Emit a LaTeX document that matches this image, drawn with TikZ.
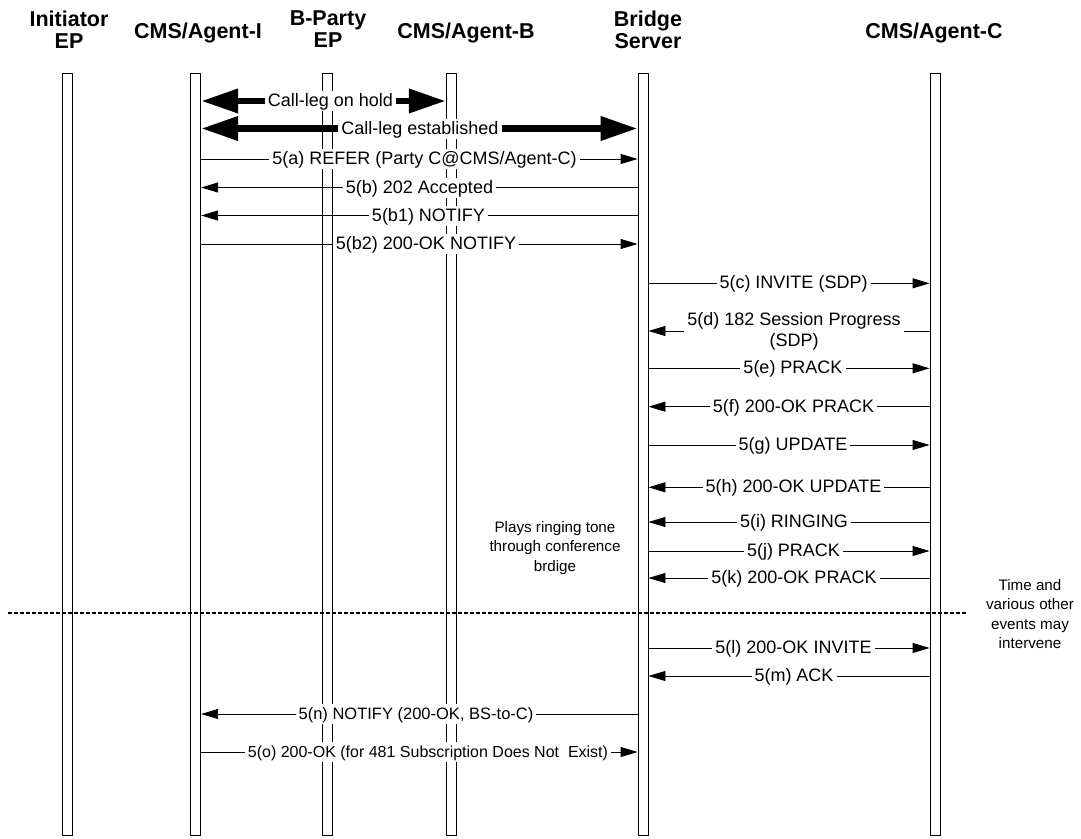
\documentclass[tikz,border=0pt]{standalone}
\usepackage{fontspec}
\setmainfont{Liberation Sans}
\usetikzlibrary{arrows.meta}
\tikzset{
  lifebar/.style={draw=black, fill=white, line width=0.9pt, minimum width=10pt, minimum height=762pt, inner sep=0pt, anchor=north},
  hdr/.style={font=\fontsize{21.5}{22}\selectfont\bfseries, align=center, inner sep=0pt},
  msg/.style={line width=0.9pt, -{Triangle[length=17pt,width=10pt]}},
  fat/.style={line width=6.8pt, {Triangle[length=37pt,width=23pt]}-{Triangle[length=37pt,width=23pt]}},
  lbl/.style={fill=white, font=\fontsize{18}{21}\selectfont, inner xsep=3pt, inner ysep=1pt, text height=14.5pt, text depth=3.5pt},
  lblsmall/.style={lbl, font=\fontsize{16}{19}\selectfont},
  lbltwo/.style={fill=white, font=\fontsize{18}{21}\selectfont, align=center, inner xsep=3pt, inner ysep=1pt},
  notetxt/.style={font=\fontsize{15.2}{19.5}\selectfont, align=center, inner sep=0pt},
  sepline/.style={line width=1.2pt, dash pattern=on 4pt off 2pt},
}
\begin{document}
\begin{tikzpicture}[x=1pt,y=-1pt]
\useasboundingbox (0,0) rectangle (1081,838);

% headers
\node[hdr] (h1) at (69,29.5) {Initiator\\EP};
\node[hdr, anchor=base] (h2) at (198,38.5) {CMS/Agent-I};
\node[hdr] (h3) at (328,29.5) {B-Party\\EP};
\node[hdr, anchor=base] (h4) at (466,38.5) {CMS/Agent-B};
\node[hdr] (h5) at (648,29.5) {Bridge\\Server};
\node[hdr, anchor=base] (h6) at (934,38.5) {CMS/Agent-C};

% lifelines
\node[lifebar] (ie) at (67.7,73) {};
\node[lifebar] (ai) at (195.7,73) {};
\node[lifebar] (bp) at (327.3,73) {};
\node[lifebar] (ab) at (451.3,73) {};
\node[lifebar] (bs) at (643,73) {};
\node[lifebar] (ac) at (935,73) {};

% separator
\coordinate (sepL) at (8,613);
\coordinate (sepR) at (966,613);
\draw[sepline] (sepL) -- (sepR);

% call legs
\draw[fat] (ai.east |- 0,101) -- (ab.west |- 0,101);
\node[lbl] (thold) at (330.5,101) {Call-leg on hold};
\draw[fat] (ai.east |- 0,128.5) -- (bs.west |- 0,128.5);
\node[lbl] (testab) at (420,128.5) {Call-leg established};

% messages agent-I <-> bridge
\draw[msg] (ai.east |- 0,159) -- (bs.west |- 0,159);
\node[lbl] (m5a) at (424.5,159) {5(a) REFER (Party C@CMS/Agent-C)};
\draw[msg] (bs.west |- 0,187.5) -- (ai.east |- 0,187.5);
\node[lbl] (m5b) at (419.5,187.5) {5(b) 202 Accepted};
\draw[msg] (bs.west |- 0,215.5) -- (ai.east |- 0,215.5);
\node[lbl] (m5b1) at (428.5,215.5) {5(b1) NOTIFY};
\draw[msg] (ai.east |- 0,244) -- (bs.west |- 0,244);
\node[lbl] (m5b2) at (426,244) {5(b2) 200-OK NOTIFY};

% bridge <-> agent-C
\draw[msg] (bs.east |- 0,283.3) -- (ac.west |- 0,283.3);
\node[lbl] (m5c) at (793.5,283.3) {5(c) INVITE (SDP)};
\draw[msg] (ac.west |- 0,331) -- (bs.east |- 0,331);
\node[lbltwo] (m5d) at (794,331) {5(d) 182 Session Progress\\(SDP)};
\draw[msg] (bs.east |- 0,368.3) -- (ac.west |- 0,368.3);
\node[lbl] (m5e) at (793,368.3) {5(e) PRACK};
\draw[msg] (ac.west |- 0,406.7) -- (bs.east |- 0,406.7);
\node[lbl] (m5f) at (793.5,406.7) {5(f) 200-OK PRACK};
\draw[msg] (bs.east |- 0,445) -- (ac.west |- 0,445);
\node[lbl] (m5g) at (793,445) {5(g) UPDATE};
\draw[msg] (ac.west |- 0,487.3) -- (bs.east |- 0,487.3);
\node[lbl] (m5h) at (793.5,487.3) {5(h) 200-OK UPDATE};
\draw[msg] (ac.west |- 0,522) -- (bs.east |- 0,522);
\node[lbl] (m5i) at (794,522) {5(i) RINGING};
\draw[msg] (bs.east |- 0,551) -- (ac.west |- 0,551);
\node[lbl] (m5j) at (793.5,551) {5(j) PRACK};
\draw[msg] (ac.west |- 0,578) -- (bs.east |- 0,578);
\node[lbl] (m5k) at (794,578) {5(k) 200-OK PRACK};
\draw[msg] (bs.east |- 0,648) -- (ac.west |- 0,648);
\node[lbl] (m5l) at (793.5,648) {5(l) 200-OK INVITE};
\draw[msg] (ac.west |- 0,676) -- (bs.east |- 0,676);
\node[lbl] (m5m) at (794,676) {5(m) ACK};

% bridge <-> agent-I (late)
\draw[msg] (bs.west |- 0,714) -- (ai.east |- 0,714);
\node[lbl, font=\fontsize{16.5}{19}\selectfont] (m5n) at (416,714) {5(n) NOTIFY (200-OK, BS-to-C)};
\draw[msg] (ai.east |- 0,752) -- (bs.west |- 0,752);
\node[lblsmall] (m5o) at (428,752) {5(o) 200-OK (for 481 Subscription Does Not\ \ Exist)};

% notes
\node[notetxt] (nring) at (555,548) {Plays ringing tone\\through conference\\brdige};
\node[notetxt] (ntime) at (1030,614) {Time and\\various other\\events may\\intervene};
\end{tikzpicture}
\end{document}
